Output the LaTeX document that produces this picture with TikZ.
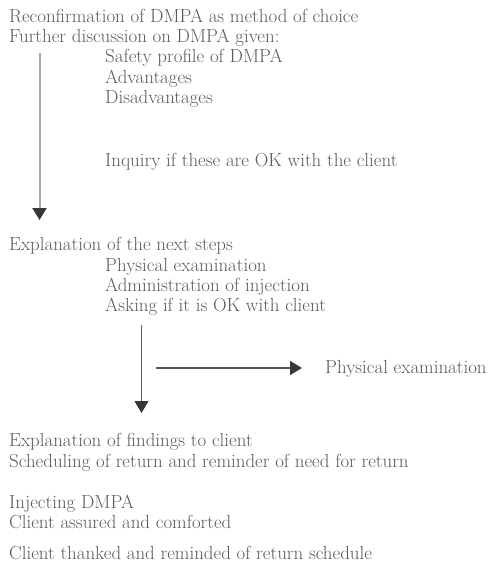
\documentclass[tikz,border=0pt]{standalone}
\usetikzlibrary{arrows.meta}
\definecolor{txtgray}{RGB}{90,90,90}
\definecolor{linegray}{RGB}{170,170,170}
\definecolor{tipgray}{RGB}{55,55,55}
\tikzset{
  txt/.style={anchor=base west, inner sep=0pt, text=txtgray, font=\fontsize{18.9}{21}\selectfont},
  flowarrow/.style={draw=#1, -{Triangle[width=14pt,length=12pt,color=tipgray]}},
}
\begin{document}
\begin{tikzpicture}[x=1pt,y=-1pt]
\useasboundingbox (0,0) rectangle (490,564);
% first block
\node[txt] (l1) at (9,22.7) {Reconfirmation of DMPA as method of choice};
\node[txt] (l2) at (9,42.7) {Further discussion on DMPA given:};
\node[txt] (l3) at (105,63) {Safety profile of DMPA};
\node[txt] (l4) at (105,83.3) {Advantages};
\node[txt] (l5) at (105,103.6) {Disadvantages};
\node[txt] (l6) at (105,166.5) {Inquiry if these are OK with the client};
% second block
\node[txt] (m1) at (9,250.7) {Explanation of the next steps};
\node[txt] (m2) at (105,271) {Physical examination};
\node[txt] (m3) at (105,291.3) {Administration of injection};
\node[txt] (m4) at (105,311.6) {Asking if it is OK with client};
% side node
\node[txt] (pe) at (325,373.5) {Physical examination};
% third block
\node[txt] (n1) at (9,446.7) {Explanation of findings to client};
\node[txt] (n2) at (9,467) {Scheduling of return and reminder of need for return};
\node[txt] (n3) at (9,508) {Injecting DMPA};
\node[txt] (n4) at (9,528.3) {Client assured and comforted};
\node[txt] (n5) at (9,559) {Client thanked and reminded of return schedule};
% connectors
\coordinate (a1s) at (39.5,53);
\coordinate (a1e) at (39.5,220);
\draw[flowarrow=linegray, line width=2pt] (a1s) -- (a1e);
\coordinate (a2s) at (141.5,325);
\coordinate (a2e) at (141.5,413);
\draw[flowarrow=tipgray!80, line width=1.1pt] (a2s) -- (a2e);
\coordinate (h1) at (156,368);
\coordinate (h2) at ([xshift=-23pt]pe.west |- h1);
\draw[flowarrow=tipgray!85, line width=1.3pt] (h1) -- (h2);
\end{tikzpicture}
\end{document}
